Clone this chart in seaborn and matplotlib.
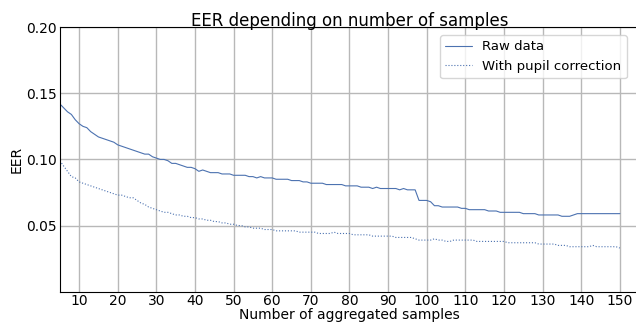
import numpy as np
import pandas as pd
import matplotlib
matplotlib.use("Agg")
import matplotlib.pyplot as plt
import seaborn as sns

# number of aggregated samples
samples = list(range(5, 151))

# EER, raw data
eer_raw = [
    0.142, 0.139, 0.136, 0.134, 0.130, 0.127, 0.125, 0.124, 0.121, 0.119,
    0.117, 0.116, 0.115, 0.114, 0.113, 0.111, 0.110, 0.109, 0.108, 0.107,
    0.106, 0.105, 0.104, 0.104, 0.102, 0.101, 0.100, 0.100, 0.099, 0.097,
    0.097, 0.096, 0.095, 0.094, 0.094, 0.093, 0.091, 0.092, 0.091, 0.090,
    0.090, 0.090, 0.089, 0.089, 0.089, 0.088, 0.088, 0.088, 0.088, 0.087,
    0.087, 0.086, 0.087, 0.086, 0.086, 0.086, 0.085, 0.085, 0.085, 0.085,
    0.084, 0.084, 0.084, 0.083, 0.083, 0.082, 0.082, 0.082, 0.082, 0.081,
    0.081, 0.081, 0.081, 0.081, 0.080, 0.080, 0.080, 0.080, 0.079, 0.079,
    0.079, 0.078, 0.079, 0.078, 0.078, 0.078, 0.078, 0.078, 0.077, 0.078,
    0.077, 0.077, 0.077, 0.069, 0.069, 0.069, 0.068, 0.065, 0.065, 0.064,
    0.064, 0.064, 0.064, 0.064, 0.063, 0.063, 0.062, 0.062, 0.062, 0.062,
    0.062, 0.061, 0.061, 0.061, 0.060, 0.060, 0.060, 0.060, 0.060, 0.060,
    0.059, 0.059, 0.059, 0.059, 0.058, 0.058, 0.058, 0.058, 0.058, 0.058,
    0.057, 0.057, 0.057, 0.058, 0.059, 0.059, 0.059, 0.059, 0.059, 0.059,
    0.059, 0.059, 0.059, 0.059, 0.059, 0.059,
]

# EER, with pupil correction
eer_pupil = [
    0.099, 0.095, 0.091, 0.087, 0.086, 0.083, 0.082, 0.081, 0.080, 0.079,
    0.078, 0.077, 0.076, 0.075, 0.074, 0.073, 0.073, 0.072, 0.071, 0.071,
    0.069, 0.067, 0.066, 0.064, 0.063, 0.062, 0.061, 0.060, 0.060, 0.059,
    0.058, 0.058, 0.057, 0.057, 0.056, 0.056, 0.055, 0.055, 0.054, 0.054,
    0.053, 0.053, 0.052, 0.052, 0.051, 0.051, 0.050, 0.050, 0.049, 0.049,
    0.048, 0.048, 0.048, 0.047, 0.047, 0.047, 0.046, 0.046, 0.046, 0.046,
    0.046, 0.046, 0.045, 0.045, 0.045, 0.045, 0.045, 0.044, 0.044, 0.044,
    0.044, 0.045, 0.044, 0.044, 0.044, 0.044, 0.043, 0.043, 0.043, 0.043,
    0.043, 0.042, 0.042, 0.042, 0.042, 0.042, 0.042, 0.041, 0.041, 0.041,
    0.041, 0.041, 0.040, 0.039, 0.039, 0.039, 0.039, 0.040, 0.039, 0.039,
    0.038, 0.038, 0.039, 0.039, 0.039, 0.039, 0.039, 0.039, 0.038, 0.038,
    0.038, 0.038, 0.038, 0.038, 0.038, 0.038, 0.037, 0.037, 0.037, 0.037,
    0.037, 0.037, 0.037, 0.037, 0.036, 0.036, 0.036, 0.036, 0.036, 0.035,
    0.035, 0.035, 0.034, 0.034, 0.034, 0.034, 0.034, 0.034, 0.035, 0.034,
    0.034, 0.034, 0.034, 0.034, 0.034, 0.033,
]

x_ticks = list(range(10, 151, 10))
y_ticks = [0.05, 0.10, 0.15, 0.20]

sns.set_style("whitegrid", {"axes.edgecolor": "black", "grid.color": "#b8b8b8",
                            "text.color": "black", "xtick.color": "black",
                            "ytick.color": "black", "axes.labelcolor": "black"})

fig = plt.figure(figsize=(6.36, 3.27), dpi=100)
ax = fig.add_axes([0.094, 0.108, 0.911, 0.809])

color = "#4c72b0"
sns.lineplot(x=samples, y=eer_raw, ax=ax, color=color, linewidth=0.8,
             label="Raw data")
sns.lineplot(x=samples, y=eer_pupil, ax=ax, color=color, linewidth=0.8,
             linestyle=":", label="With pupil correction")

ax.set_xlim(5, 155)
ax.set_ylim(0, 0.20)
ax.set_xticks(x_ticks)
ax.set_yticks(y_ticks)
ax.set_yticklabels([f"{t:.2f}" for t in y_ticks])
ax.tick_params(labelsize=10, length=0, pad=2)
ax.grid(True, linewidth=1)

ax.set_title("EER depending on number of samples", fontsize=12, pad=1)
ax.set_xlabel("Number of aggregated samples", fontsize=10, labelpad=0)
ax.set_ylabel("EER", fontsize=10, labelpad=2)
ax.legend(loc="upper right", fontsize=9.5, frameon=True,
          bbox_to_anchor=(0.99, 0.995))

fig.savefig("out.png", dpi=100)
